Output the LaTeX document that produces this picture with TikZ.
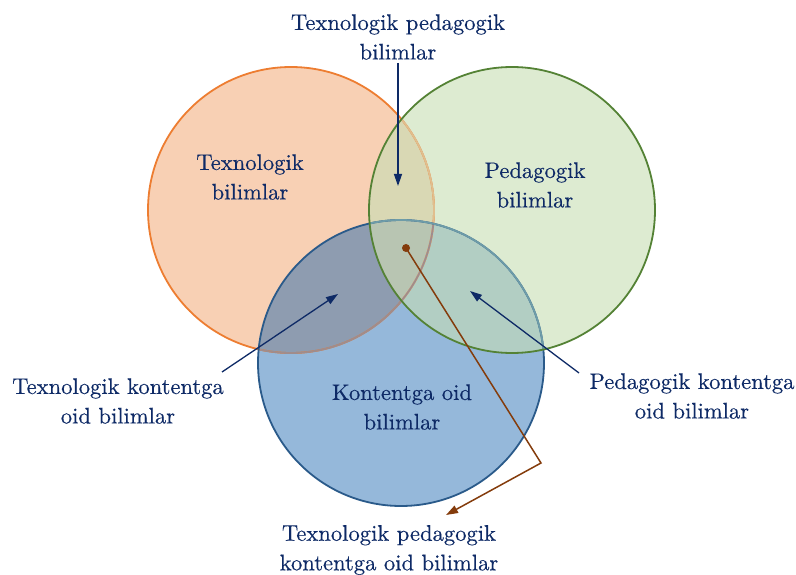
\documentclass[tikz,border=0pt]{standalone}
\usepackage{fontspec}
\newfontfamily\lblfont{lmroman10-regular.otf}[FakeBold=0.3]
\usetikzlibrary{arrows.meta}
\definecolor{txt}{HTML}{0E2A66}
\definecolor{Ofill}{HTML}{F8D0B4}
\definecolor{Ostroke}{HTML}{ED7D31}
\definecolor{Gfill}{HTML}{DDEBD1}
\definecolor{Gstroke}{HTML}{548235}
\definecolor{Bfill}{HTML}{95B8DA}
\definecolor{Bstroke}{HTML}{2A5A8A}
\definecolor{OGfill}{HTML}{D9D8B4}
\definecolor{OBfill}{HTML}{8E9CB0}
\definecolor{GBfill}{HTML}{B2CEC3}
\definecolor{OGBfill}{HTML}{B8C5B2}
\definecolor{OinG}{HTML}{E0BE8E}
\definecolor{OinB}{HTML}{A08C8C}
\definecolor{BinG}{HTML}{6E9CA8}
\definecolor{brn}{HTML}{843C0C}
\tikzset{
  lbl/.style={text=txt, align=center, font=\lblfont\fontsize{22.6}{29.5}\selectfont, inner sep=0pt},
  navyarrow/.style={draw=txt, line width=1.3pt, -{Triangle[length=12pt,width=8pt]}},
  brnarrow/.style={draw=brn, line width=1.5pt, -{Triangle[length=12pt,width=8pt]}},
  ring/.style={line width=1.8pt}
}
\begin{document}
\begin{tikzpicture}[x=1pt,y=-1pt]
\useasboundingbox (0,0) rectangle (796,575);
\def\Ocirc{(291,210) circle [radius=143pt]}
\def\Gcirc{(512,210) circle [radius=143pt]}
\def\Bcirc{(401,363) circle [radius=143pt]}
% base fills
\fill[Ofill] \Ocirc;
\fill[Gfill] \Gcirc;
\fill[Bfill] \Bcirc;
% pairwise overlaps
\begin{scope}\clip \Ocirc; \fill[OGfill] \Gcirc; \end{scope}
\begin{scope}\clip \Ocirc; \fill[OBfill] \Bcirc; \end{scope}
\begin{scope}\clip \Gcirc; \fill[GBfill] \Bcirc; \end{scope}
\begin{scope}\clip \Ocirc; \clip \Gcirc; \fill[OGBfill] \Bcirc; \end{scope}
% outlines
\draw[ring, Ostroke] \Ocirc;
\begin{scope}\clip \Gcirc; \draw[ring, OinG] \Ocirc; \end{scope}
\begin{scope}\clip \Bcirc; \draw[ring, OinB] \Ocirc; \end{scope}
\draw[ring, Bstroke] \Bcirc;
\begin{scope}\clip \Gcirc; \draw[ring, BinG] \Bcirc; \end{scope}
\draw[ring, Gstroke] \Gcirc;
% labels
\node[lbl] (tp) at (398,37) {Texnologik pedagogik\\bilimlar};
\node[lbl] (t) at (250,177) {Texnologik\\bilimlar};
\node[lbl] (p) at (535,185) {Pedagogik\\bilimlar};
\node[lbl] (k) at (402,407) {Kontentga oid\\bilimlar};
\node[lbl] (tk) at (118,401) {Texnologik kontentga\\oid bilimlar};
\node[lbl] (pk) at (692,396) {Pedagogik kontentga\\oid bilimlar};
\node[lbl] (tpk) at (389,550) {Texnologik pedagogik\\kontentga oid bilimlar};
% connector coordinates
\coordinate (tpS) at (398,63);
\coordinate (tpE) at (398,186);
\coordinate (tkS) at (222,372);
\coordinate (tkE) at (338,294);
\coordinate (pkS) at (579,373);
\coordinate (pkE) at (470,291);
\coordinate (dot) at (406,248);
\coordinate (bend) at (541,463);
\coordinate (tpkE) at (446,515);
% connectors
\draw[navyarrow] (tpS) -- (tpE);
\draw[navyarrow] (tkS) -- (tkE);
\draw[navyarrow] (pkS) -- (pkE);
\fill[brn] (dot) circle [radius=4pt];
\draw[brnarrow] (dot) -- (bend) -- (tpkE);
\end{tikzpicture}
\end{document}
